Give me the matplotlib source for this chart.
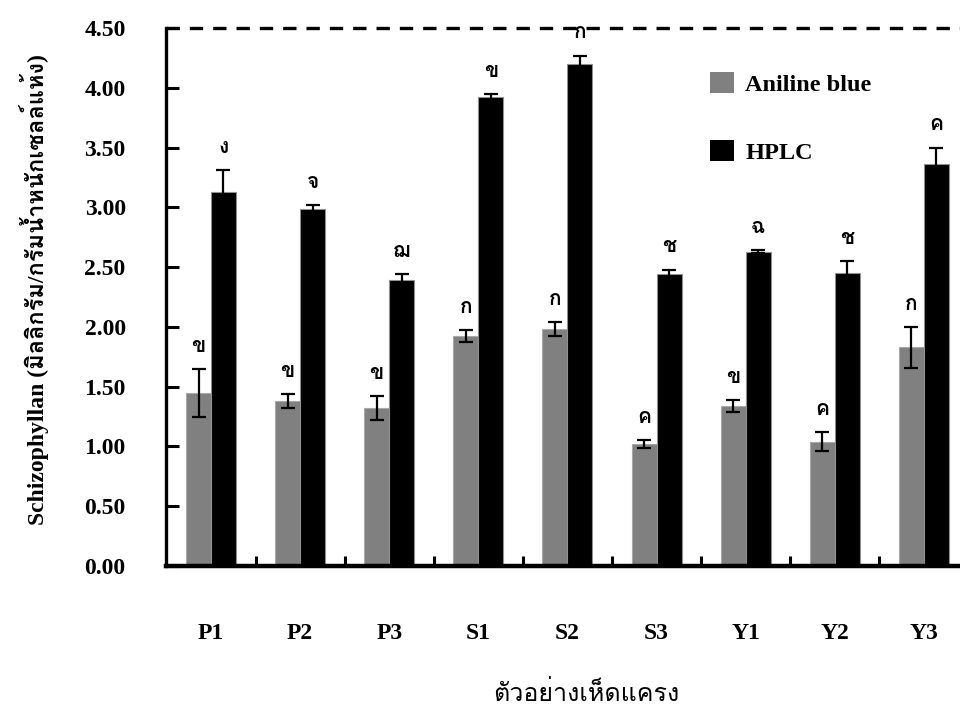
import matplotlib
matplotlib.use("Agg")
import matplotlib.pyplot as plt
import numpy as np
from matplotlib import font_manager
from matplotlib.ft2font import FT2Font
from matplotlib.patches import Patch

samples = ["P1", "P2", "P3", "S1", "S2", "S3", "Y1", "Y2", "Y3"]
aniline = [1.45, 1.38, 1.32, 1.92, 1.98, 1.02, 1.34, 1.04, 1.83]
aniline_err = [0.20, 0.06, 0.10, 0.05, 0.06, 0.03, 0.05, 0.08, 0.17]
aniline_grp = ["ข", "ข", "ข", "ก", "ก", "ค", "ข", "ค", "ก"]
hplc = [3.13, 2.99, 2.39, 3.92, 4.20, 2.44, 2.63, 2.45, 3.36]
hplc_err = [0.18, 0.03, 0.05, 0.03, 0.07, 0.04, 0.01, 0.10, 0.14]
hplc_grp = ["ง", "จ", "ฌ", "ข", "ก", "ช", "ฉ", "ช", "ค"]
yticks = [0.0, 0.5, 1.0, 1.5, 2.0, 2.5, 3.0, 3.5, 4.0, 4.5]


def thai_family():
    # first installed font that has Thai glyphs
    for f in font_manager.fontManager.ttflist:
        try:
            if 0x0E01 in FT2Font(f.fname).get_charmap():
                return f.name
        except Exception:
            pass
    return "DejaVu Sans"


thai = thai_family()
serif = ["Liberation Serif", thai]

fig = plt.figure(figsize=(9.6, 7.09), dpi=100)
ax = fig.add_axes([0.1729, 0.2017, 0.827, 0.7588])

x = np.arange(len(samples))
w = 0.28
ax.bar(x - w / 2, aniline, w, color="#808080", edgecolor="#a8a8a8", linewidth=0.8)
ax.bar(x + w / 2, hplc, w, color="black", edgecolor="#909090", linewidth=0.8)
ax.errorbar(x - w / 2, aniline, yerr=aniline_err, fmt="none", ecolor="black",
            elinewidth=1.6, capsize=5, capthick=1.6)
ax.errorbar(x + w / 2, hplc, yerr=hplc_err, fmt="none", ecolor="black",
            elinewidth=1.6, capsize=5, capthick=1.6)

for i in range(len(samples)):
    ax.text(x[i] - w / 2, aniline[i] + aniline_err[i] + 0.19, aniline_grp[i],
            ha="center", va="center", fontsize=15, fontweight="bold", family=[thai])
    ax.text(x[i] + w / 2, hplc[i] + hplc_err[i] + 0.19, hplc_grp[i],
            ha="center", va="center", fontsize=15, fontweight="bold", family=[thai])

ax.set_xlim(-0.505, 8.404)
ax.set_ylim(0, 4.5)
ax.set_yticks(yticks)
ax.set_yticklabels(["%.2f" % v for v in yticks], family=serif, fontweight="bold", fontsize=17)
ax.set_xticks(x)
ax.set_xticklabels(samples, family=serif, fontweight="bold", fontsize=17)
ax.set_xticks(x[:-1] + 0.5, minor=True)
ax.tick_params(axis="y", direction="in", length=9, width=2.2, pad=29)
ax.tick_params(axis="x", which="major", length=0, pad=41)
ax.tick_params(axis="x", which="minor", direction="in", length=7, width=2.2)

for s in ["top", "right"]:
    ax.spines[s].set_visible(False)
ax.spines["left"].set_linewidth(2.4)
ax.spines["bottom"].set_linewidth(3.2)
ax.axhline(4.5, color="black", linewidth=2.4, linestyle=(0, (4, 3)), clip_on=False)

handles = [Patch(facecolor="#808080", edgecolor="none", label="Aniline blue"),
           Patch(facecolor="black", edgecolor="none", label="HPLC")]
fig.legend(handles=handles, loc="upper left", bbox_to_anchor=(0.7396, 0.899),
           frameon=False, prop={"family": serif, "weight": "bold", "size": 17.5},
           handlelength=1.0, handleheight=1.0, handletextpad=0.45,
           labelspacing=1.8, borderpad=0, borderaxespad=0)

fig.text(0.036, 0.591, "Schizophyllan (มิลลิกรัม/กรัมน้ำหนักเซลล์แห้ง)", rotation=90,
         ha="center", va="center", fontsize=17, fontweight="bold", family=serif)
fig.text(0.611, 0.022, "ตัวอย่างเห็ดแครง", ha="center", va="center",
         fontsize=18, family=[thai, "Liberation Serif"])

fig.savefig("out.png", dpi=100)
